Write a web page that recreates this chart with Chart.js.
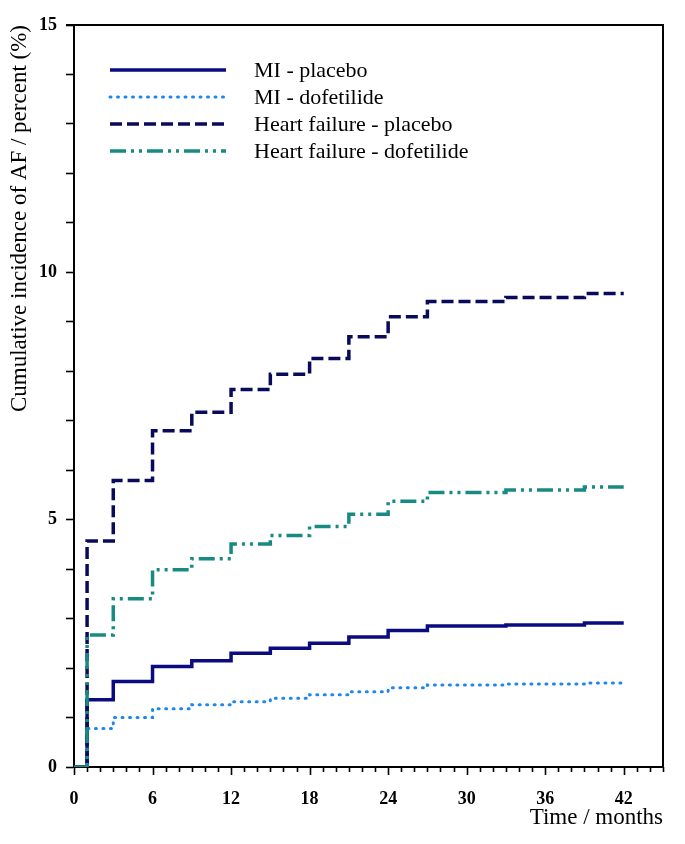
<!DOCTYPE html>
<html>
<head>
<meta charset="utf-8">
<script src="https://cdn.jsdelivr.net/npm/chart.js@4.4.1/dist/chart.umd.min.js"></script>
<style>
    html, body { margin: 0; padding: 0; background: #fff; }
    #wrap { width: 685px; height: 844px; }
</style>
</head>
<body>
<div id="wrap"><canvas id="afChart"></canvas></div>
<script>
// event times (months) and cumulative incidence (%)
const months = [0, 1, 3, 6, 9, 12, 15, 18, 21, 24, 27, 33, 39, 42];
const miPlacebo = [0, 1.36, 1.73, 2.03, 2.15, 2.30, 2.40, 2.50, 2.63, 2.76, 2.85, 2.87, 2.91, 2.91];
const miDofetilide = [0, 0.78, 1.00, 1.18, 1.26, 1.32, 1.39, 1.46, 1.52, 1.60, 1.66, 1.68, 1.70, 1.70];
const hfPlacebo = [0, 4.57, 5.79, 6.80, 7.17, 7.63, 7.94, 8.26, 8.70, 9.10, 9.41, 9.49, 9.57, 9.57];
const hfDofetilide = [0, 2.67, 3.40, 3.99, 4.21, 4.51, 4.68, 4.86, 5.11, 5.37, 5.55, 5.60, 5.66, 5.66];

const xLabelEvery = 6;
const yLabelEvery = 5;

document.addEventListener("DOMContentLoaded", function () {
    const ctx = document.getElementById("afChart").getContext("2d");
    const serif = "'Liberation Serif', 'Times New Roman', serif";

    function toPoints(values) {
        return months.map((m, i) => ({ x: m, y: values[i] }));
    }

    // frame on top and right, plus the x ticks (long every 6 months, short otherwise)
    const frame = {
        id: "frame",
        afterDraw(chart) {
            const a = chart.chartArea;
            const c = chart.ctx;
            const xs = chart.scales.x;
            c.save();
            c.strokeStyle = "#000";
            c.lineWidth = 2;
            c.beginPath();
            c.moveTo(a.left - 8, a.top);
            c.lineTo(a.right, a.top);
            c.lineTo(a.right, a.bottom);
            c.stroke();
            c.lineWidth = 1.6;
            c.beginPath();
            xs.ticks.forEach((t) => {
                const px = Math.round(xs.getPixelForValue(t.value)) + 0.5;
                const len = t.value % xLabelEvery === 0 ? 8 : 5;
                c.moveTo(px, a.bottom);
                c.lineTo(px, a.bottom + len);
            });
            c.stroke();
            c.restore();
        },
    };

    // legend drawn inside the plot, upper left
    const insideLegend = {
        id: "insideLegend",
        afterDraw(chart) {
            const a = chart.chartArea;
            const c = chart.ctx;
            c.save();
            chart.data.datasets.forEach((ds, i) => {
                const y = a.top + 45 + i * 27;
                c.strokeStyle = ds.borderColor;
                c.lineWidth = ds.borderWidth;
                c.lineCap = ds.borderCapStyle || "butt";
                c.setLineDash(ds.borderDash || []);
                c.beginPath();
                c.moveTo(a.left + 36, y);
                c.lineTo(a.left + 152, y);
                c.stroke();
                c.setLineDash([]);
                c.fillStyle = "#000";
                c.font = "22px " + serif;
                c.textBaseline = "middle";
                c.fillText(ds.label, a.left + 180, y + 1);
            });
            c.restore();
        },
    };

    new Chart(ctx, {
        type: "line",
        data: {
            datasets: [
                {
                    label: "MI - placebo",
                    data: toPoints(miPlacebo),
                    borderColor: "#0b0b80",
                    borderWidth: 3.5,
                    stepped: "before",
                    order: 3,
                },
                {
                    label: "MI - dofetilide",
                    data: toPoints(miDofetilide),
                    borderColor: "#1e86f0",
                    borderWidth: 3,
                    borderDash: [1, 6.5],
                    borderCapStyle: "round",
                    stepped: "before",
                    order: 2,
                },
                {
                    label: "Heart failure - placebo",
                    data: toPoints(hfPlacebo),
                    borderColor: "#0a0a5a",
                    borderWidth: 3.5,
                    borderDash: [12, 5],
                    stepped: "before",
                    order: 1,
                },
                {
                    label: "Heart failure - dofetilide",
                    data: toPoints(hfDofetilide),
                    borderColor: "#178a82",
                    borderWidth: 3.5,
                    borderDash: [16, 5, 3, 5, 3, 5],
                    stepped: "before",
                    order: 0,
                },
            ],
        },
        options: {
            responsive: true,
            maintainAspectRatio: false,
            animation: false,
            layout: { padding: { top: 25, right: 22, left: 0, bottom: 0 } },
            elements: { point: { radius: 0 }, line: { tension: 0 } },
            plugins: {
                legend: { display: false },
                tooltip: { enabled: false },
            },
            scales: {
                x: {
                    type: "linear",
                    min: 0,
                    max: 45,
                    afterFit(scale) { scale.height = 77; },
                    border: { color: "#000", width: 2 },
                    grid: {
                        drawOnChartArea: false,
                        tickLength: 8,
                        tickColor: "rgba(0,0,0,0)",
                    },
                    ticks: {
                        stepSize: 1,
                        autoSkip: false,
                        maxRotation: 0,
                        padding: 14,
                        color: "#000",
                        font: { family: serif, size: 18, weight: "bold" },
                        callback: (v) => (v % xLabelEvery === 0 && v <= 42 ? String(v) : ""),
                    },
                    title: {
                        display: true,
                        text: "Time / months",
                        align: "end",
                        color: "#000",
                        font: { family: serif, size: 23 },
                        padding: { top: 0, bottom: 12 },
                    },
                },
                y: {
                    min: 0,
                    max: 15,
                    afterFit(scale) { scale.width = 74; },
                    border: { color: "#000", width: 2 },
                    grid: {
                        drawOnChartArea: false,
                        tickLength: 8,
                        tickColor: "#000",
                        tickWidth: 1.6,
                    },
                    ticks: {
                        stepSize: 1,
                        autoSkip: false,
                        padding: 9,
                        color: "#000",
                        font: { family: serif, size: 18, weight: "bold" },
                        callback: (v) => (v % yLabelEvery === 0 ? String(v) : ""),
                    },
                    title: {
                        display: true,
                        text: "Cumulative incidence of AF / percent (%)",
                        align: "end",
                        color: "#000",
                        font: { family: serif, size: 23 },
                        padding: { top: 6, bottom: 0 },
                    },
                },
            },
        },
        plugins: [frame, insideLegend],
    });
});
</script>
</body>
</html>
